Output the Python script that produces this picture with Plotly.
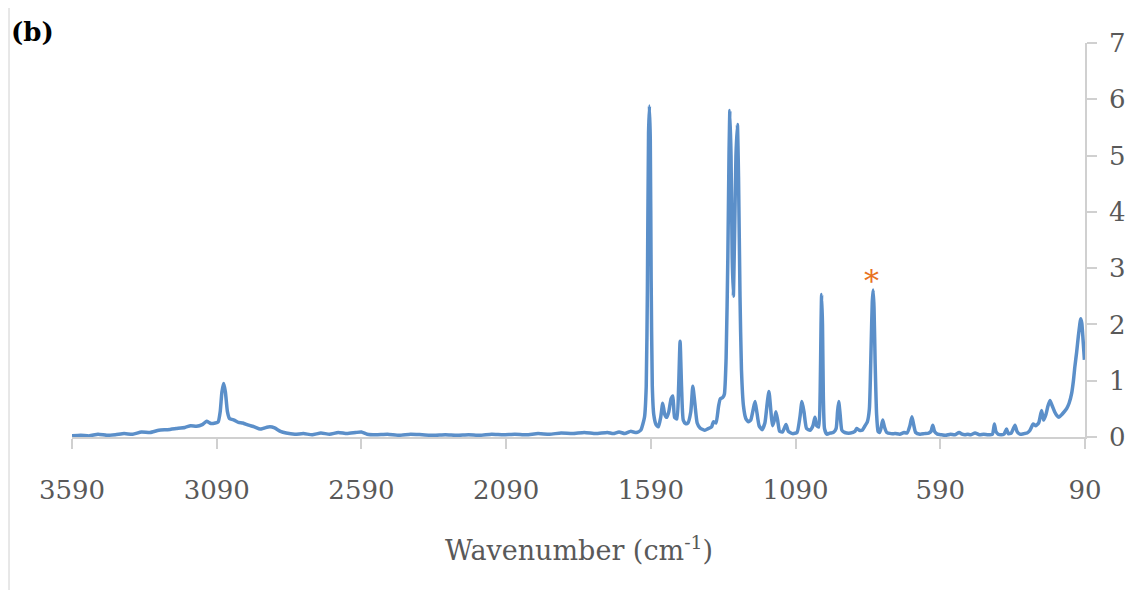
import plotly.graph_objects as go

# Raman/IR-like spectrum (wavenumber in cm-1, intensity)
wavenumber = [
    3590, 3560, 3530, 3500, 3470, 3440, 3410, 3380, 3350, 3320, 3290, 3260, 3230, 3200,
    3180, 3160, 3140, 3125, 3110, 3095, 3085, 3078, 3072, 3066, 3060, 3053, 3046, 3030,
    3015, 3000, 2980, 2960, 2940, 2925, 2906, 2890, 2870, 2850, 2820, 2790, 2760, 2730,
    2700, 2670, 2640, 2610, 2590, 2570, 2540, 2500, 2460, 2420, 2380, 2340, 2300, 2260,
    2220, 2180, 2140, 2100, 2060, 2020, 1980, 1940, 1900, 1860, 1820, 1780, 1740, 1720,
    1700, 1680, 1660, 1640, 1625, 1612, 1606, 1602, 1598, 1595, 1592, 1589, 1585, 1580,
    1572, 1564, 1556, 1549, 1542, 1535, 1528, 1520, 1514, 1508, 1500, 1494, 1489, 1484,
    1478, 1470, 1462, 1452, 1445, 1438, 1430, 1420, 1405, 1395, 1380, 1374, 1365, 1356,
    1350, 1342, 1336, 1330, 1324, 1320, 1317, 1313, 1309, 1305, 1301, 1296, 1291, 1287,
    1282, 1277, 1270, 1262, 1253, 1245, 1236, 1230, 1224, 1216, 1206, 1196, 1188, 1182,
    1176, 1170, 1163, 1158, 1152, 1145, 1135, 1123, 1115, 1100, 1085, 1075, 1068, 1061,
    1052, 1040, 1030, 1023, 1017, 1010, 1005, 1002, 1000, 997, 994, 990, 982, 970,
    960, 950, 945, 941, 936, 930, 920, 900, 885, 879, 870, 860, 850, 842,
    835, 829, 825, 822, 819, 815, 810, 805, 800, 795, 789, 783, 775, 760,
    745, 730, 715, 705, 695, 688, 682, 675, 660, 645, 630, 622, 616, 610,
    600, 585, 570, 555, 540, 525, 515, 505, 495, 485, 470, 455, 440, 425,
    410, 403, 398, 390, 380, 370, 361, 355, 345, 332, 325, 315, 300, 290,
    280, 269, 260, 250, 240, 233, 225, 218, 211, 203, 195, 187, 180, 170,
    160, 153, 145, 136, 130, 125, 119, 113, 108, 105, 101, 97, 92,
]
intensity = [
    0.02, 0.03, 0.02, 0.05, 0.03, 0.04, 0.06, 0.05, 0.09, 0.08, 0.12, 0.13, 0.15, 0.17,
    0.20, 0.19, 0.22, 0.28, 0.24, 0.25, 0.27, 0.45, 0.80, 0.95, 0.80, 0.45, 0.33, 0.30,
    0.26, 0.25, 0.21, 0.18, 0.14, 0.16, 0.18, 0.16, 0.10, 0.07, 0.05, 0.06, 0.04, 0.07,
    0.05, 0.08, 0.06, 0.08, 0.09, 0.05, 0.04, 0.05, 0.03, 0.05, 0.04, 0.03, 0.04, 0.03,
    0.04, 0.03, 0.05, 0.04, 0.05, 0.04, 0.06, 0.05, 0.07, 0.06, 0.08, 0.06, 0.08, 0.06,
    0.09, 0.06, 0.10, 0.08, 0.12, 0.35, 0.90, 2.60, 5.40, 5.88, 5.30, 2.80, 0.90, 0.40,
    0.22, 0.18, 0.35, 0.60, 0.40, 0.35, 0.45, 0.68, 0.73, 0.35, 0.32, 0.90, 1.70, 0.90,
    0.30, 0.24, 0.25, 0.45, 0.90, 0.60, 0.25, 0.16, 0.12, 0.14, 0.18, 0.27, 0.25, 0.55,
    0.68, 0.70, 0.76, 1.40, 3.20, 5.00, 5.80, 5.00, 3.20, 2.50, 3.50, 5.00, 5.55, 4.60,
    2.50, 1.20, 0.55, 0.33, 0.27, 0.30, 0.50, 0.63, 0.45, 0.20, 0.13, 0.25, 0.60, 0.81,
    0.50, 0.20, 0.30, 0.45, 0.30, 0.10, 0.09, 0.22, 0.10, 0.06, 0.08, 0.35, 0.63, 0.45,
    0.15, 0.12, 0.20, 0.35, 0.20, 0.18, 0.80, 2.00, 2.53, 2.00, 0.70, 0.15, 0.05, 0.07,
    0.08, 0.15, 0.45, 0.63, 0.40, 0.12, 0.08, 0.07, 0.10, 0.15, 0.12, 0.12, 0.20, 0.27,
    0.50, 1.60, 2.40, 2.61, 2.30, 1.30, 0.40, 0.10, 0.08, 0.15, 0.30, 0.18, 0.08, 0.06,
    0.06, 0.05, 0.08, 0.07, 0.20, 0.36, 0.22, 0.08, 0.05, 0.06, 0.07, 0.10, 0.21, 0.10,
    0.05, 0.04, 0.03, 0.05, 0.04, 0.08, 0.05, 0.04, 0.05, 0.04, 0.07, 0.04, 0.05, 0.04,
    0.05, 0.23, 0.10, 0.05, 0.04, 0.05, 0.14, 0.06, 0.07, 0.21, 0.10, 0.05, 0.06, 0.07,
    0.12, 0.23, 0.20, 0.25, 0.47, 0.30, 0.40, 0.55, 0.65, 0.55, 0.45, 0.38, 0.35, 0.40,
    0.46, 0.51, 0.60, 0.78, 1.00, 1.25, 1.50, 1.79, 2.00, 2.10, 2.02, 1.75, 1.37,
]

x_ticks = [3590, 3090, 2590, 2090, 1590, 1090, 590, 90]
y_ticks = [0, 1, 2, 3, 4, 5, 6, 7]
marked_peak = (826, 2.78)  # position of the orange asterisk

FONT = "DejaVu Serif"
AXIS_GRAY = "#d0d0d0"
TEXT_GRAY = "#595959"

fig = go.Figure()
fig.add_trace(go.Scatter(
    x=wavenumber, y=intensity, mode="lines",
    line=dict(color="#5b8fc9", width=3.5, shape="spline", smoothing=0.5),
    showlegend=False, hoverinfo="skip",
))

# page body has an 8px margin: figure occupies window pixels 8..1133 x 8..590
OFF = 8
W, H = 1133 - OFF, 590 - OFF
L, R, T, B = 72 - OFF, 48, 43 - OFF, 153
plot_w = W - L - R
plot_h = H - T - B

def px_to_paper_x(px):  # px in window pixels
    return (px - OFF - L) / plot_w

def py_to_paper_y(py):  # py in window pixels
    return (H - B - (py - OFF)) / plot_h

fig.update_layout(
    width=W, height=H,
    margin=dict(l=L, r=R, t=T, b=B, pad=0),
    paper_bgcolor="white", plot_bgcolor="white",
    font=dict(family=FONT, color=TEXT_GRAY, size=26),
    xaxis=dict(
        range=[3590, 90], tickvals=x_ticks, ticktext=[str(v) for v in x_ticks],
        showgrid=False, zeroline=False, showline=True, linecolor=AXIS_GRAY, linewidth=1.5,
        ticks="outside", ticklen=10, tickcolor=AXIS_GRAY, tickwidth=1.5,
        tickfont=dict(family=FONT, size=26, color=TEXT_GRAY),
        ticklabelstandoff=19, automargin=False,
    ),
    yaxis=dict(
        range=[0, 7], tickvals=y_ticks, side="right",
        showgrid=False, zeroline=False, showline=True, linecolor=AXIS_GRAY, linewidth=1.5,
        ticks="outside", ticklen=10, tickcolor=AXIS_GRAY, tickwidth=1.5,
        tickfont=dict(family=FONT, size=26, color=TEXT_GRAY),
        ticklabelstandoff=7, automargin=False,
    ),
    shapes=[dict(
        type="line", xref="paper", yref="paper",
        x0=px_to_paper_x(9), x1=px_to_paper_x(9),
        y0=py_to_paper_y(7), y1=py_to_paper_y(590),
        line=dict(color=AXIS_GRAY, width=1),
    )],
    annotations=[
        dict(text="<b>(b)</b>", xref="paper", yref="paper",
             x=px_to_paper_x(9), y=py_to_paper_y(32), xanchor="left", yanchor="middle",
             showarrow=False, font=dict(family=FONT, size=26, color="black")),
        dict(text="Wavenumber (cm<sup>-1</sup>)", xref="paper", yref="paper",
             x=0.5, y=py_to_paper_y(548), xanchor="center", yanchor="middle",
             showarrow=False, font=dict(family=FONT, size=27, color=TEXT_GRAY)),
        dict(text="*", xref="x", yref="y", x=marked_peak[0], y=marked_peak[1],
             xanchor="center", yanchor="middle", showarrow=False,
             font=dict(family=FONT, size=30, color="#e8731f")),
    ],
)

fig.write_html("out.html")
